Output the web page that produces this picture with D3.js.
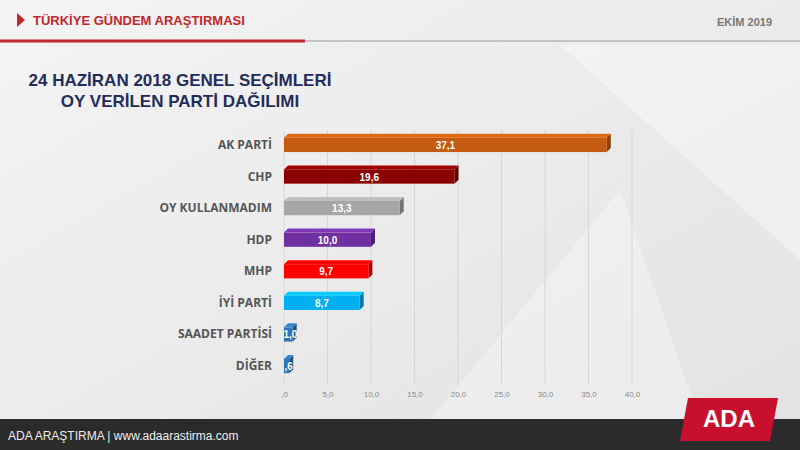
<!DOCTYPE html>
<html><head><meta charset="utf-8">
<script src="https://cdn.jsdelivr.net/npm/d3@7"></script>
<style>body{margin:0;}svg{display:block;font-family:"Liberation Sans",Arial,sans-serif;}</style>
</head><body><svg id="c" width="800" height="450"></svg>
<script>
var parties = ['AK PARTİ', 'CHP', 'OY KULLANMADIM', 'HDP', 'MHP', 'İYİ PARTİ', 'SAADET PARTİSİ', 'DİĞER'];
var shares = [37.1, 19.6, 13.3, 10.0, 9.7, 8.7, 1.0, 0.6];
var colors = ['#c55a11', '#8b0000', '#a6a6a6', '#7030a0', '#ff0000', '#00b0f0', '#2e75b6', '#2e75b6'];
var ticks = [0, 5, 10, 15, 20, 25, 30, 35, 40];

var svg = d3.select('#c');
var defs = svg.append('defs');
var bg = defs.append('linearGradient').attr('id', 'bg').attr('x1', 0).attr('y1', 0).attr('x2', 1).attr('y2', 1);
bg.append('stop').attr('offset', 0).attr('stop-color', '#f4f4f4');
bg.append('stop').attr('offset', 1).attr('stop-color', '#e2e2e2');
svg.append('rect').attr('width', 800).attr('height', 450).attr('fill', 'url(#bg)');
// faint background facets
svg.append('path').attr('d', 'M560,45 L800,45 L800,260 Z').attr('fill', '#fff').attr('opacity', 0.35);
svg.append('path').attr('d', 'M430,420 L620,190 L700,420 Z').attr('fill', '#fff').attr('opacity', 0.3);

// header
svg.append('path').attr('d', 'M17,13 L25,20 L17,27 Z').attr('fill', '#c0272d');
svg.append('text').attr('x', 33).attr('y', 25).attr('fill', '#c0272d')
    .attr('font-size', 13).attr('font-weight', 'bold').text('TÜRKİYE GÜNDEM ARAŞTIRMASI');
svg.append('text').attr('x', 772).attr('y', 26).attr('text-anchor', 'end').attr('fill', '#777')
    .attr('font-size', 11).attr('font-weight', 'bold').text('EKİM 2019');
svg.append('line').attr('x1', 0).attr('x2', 800).attr('y1', 41).attr('y2', 41).attr('stroke', '#999').attr('stroke-width', 1);
svg.append('line').attr('x1', 0).attr('x2', 305).attr('y1', 41).attr('y2', 41).attr('stroke', '#c0272d').attr('stroke-width', 3);

svg.append('text').attr('x', 180).attr('y', 86).attr('text-anchor', 'middle').attr('fill', '#1f2d5a')
    .attr('font-size', 17).attr('font-weight', 'bold').text('24 HAZİRAN 2018 GENEL SEÇİMLERİ');
svg.append('text').attr('x', 180).attr('y', 107).attr('text-anchor', 'middle').attr('fill', '#1f2d5a')
    .attr('font-size', 17).attr('font-weight', 'bold').text('OY VERİLEN PARTİ DAĞILIMI');

// chart
var x = d3.scaleLinear().domain([0, 40]).range([284, 632]);
var y = d3.scaleBand().domain(parties).range([129, 382]).paddingInner(0.55).paddingOuter(0.28);
var fmt = function(v) { return v < 1 ? ',' + String(Math.round(v * 10)) : v.toFixed(1).replace('.', ','); };

svg.append('g').selectAll('line').data(ticks).join('line')
    .attr('x1', d => x(d)).attr('x2', d => x(d)).attr('y1', 130).attr('y2', 385)
    .attr('stroke', '#d6d6d6');

var axis = svg.append('g').attr('transform', 'translate(0,385)')
    .call(d3.axisBottom(x).tickValues(ticks).tickSize(0).tickPadding(6)
        .tickFormat(d => d === 0 ? ',0' : d.toFixed(1).replace('.', ',')));
axis.select('.domain').remove();
axis.selectAll('text').attr('fill', '#888').attr('font-size', 8);

var dep = 4;
var bars = svg.append('g').selectAll('g').data(parties).join('g');
bars.append('path').attr('fill', (d, i) => d3.color(colors[i]).darker(1))
    .attr('d', (d, i) => {
        var x1 = x(shares[i]), y0 = y(d), h = y.bandwidth();
        return 'M' + x1 + ',' + y0 + 'L' + (x1 + dep) + ',' + (y0 - dep) + 'L' + (x1 + dep) + ',' + (y0 + h - dep) + 'L' + x1 + ',' + (y0 + h) + 'Z';
    });
bars.append('path').attr('fill', (d, i) => d3.color(colors[i]).brighter(0.4))
    .attr('d', (d, i) => {
        var x0 = x(0), x1 = x(shares[i]), y0 = y(d);
        return 'M' + x0 + ',' + y0 + 'L' + (x0 + dep) + ',' + (y0 - dep) + 'L' + (x1 + dep) + ',' + (y0 - dep) + 'L' + x1 + ',' + y0 + 'Z';
    });
bars.append('rect').attr('x', x(0)).attr('y', d => y(d))
    .attr('width', (d, i) => x(shares[i]) - x(0)).attr('height', y.bandwidth())
    .attr('fill', (d, i) => colors[i]);
bars.append('text').attr('x', (d, i) => (x(0) + x(shares[i])) / 2 + (shares[i] < 2 ? 2 : 0))
    .attr('y', d => y(d) + y.bandwidth() / 2 + 4).attr('text-anchor', 'middle')
    .attr('fill', '#fff').attr('font-size', 10).attr('font-weight', 'bold')
    .text((d, i) => fmt(shares[i]));
bars.append('text').attr('x', 272).attr('y', d => y(d) + y.bandwidth() / 2 + 4)
    .attr('text-anchor', 'end').attr('fill', '#555').attr('font-size', 12).attr('font-weight', 'bold')
    .attr('font-family', '"Open Sans",sans-serif').text(d => d);

// footer
svg.append('rect').attr('x', 0).attr('y', 419).attr('width', 800).attr('height', 31).attr('fill', '#2b2b2b');
svg.append('text').attr('x', 8).attr('y', 440).attr('fill', '#eee').attr('font-size', 12)
    .text('ADA ARAŞTIRMA |  www.adaarastirma.com');
svg.append('path').attr('d', 'M688,398 L778,398 L770,441 L680,441 Z').attr('fill', '#c8102e');
svg.append('text').attr('x', 729).attr('y', 427).attr('text-anchor', 'middle').attr('fill', '#fff')
    .attr('font-size', 24).attr('font-weight', 'bold').text('ADA');
</script></body></html>
